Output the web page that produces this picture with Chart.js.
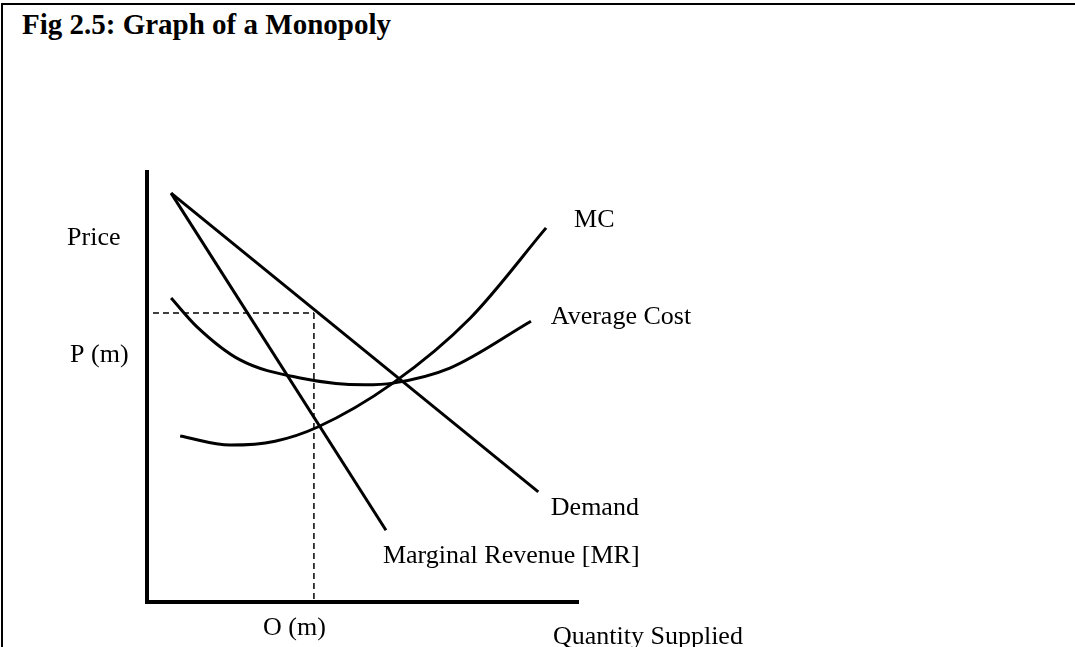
<!DOCTYPE html>
<html>
<head>
<meta charset="utf-8">
<title>Fig 2.5: Graph of a Monopoly</title>
<script src="https://cdn.jsdelivr.net/npm/chart.js@4/dist/chart.umd.min.js"></script>
<style>
  html, body { margin: 0; padding: 0; background: #fff; overflow: hidden; }
  #wrap { position: relative; width: 1075px; height: 647px; }
  #frame { position: absolute; left: 1px; top: 3px; width: 1100px; height: 700px;
           border-top: 2px solid #000; border-left: 2px solid #000; }
  #title { position: absolute; left: 22px; top: 8px; margin: 0;
           font: bold 29px "Liberation Serif", "Times New Roman", serif; color: #000; }
  #chart { position: absolute; left: 0; top: 0; }
</style>
</head>
<body>
<div id="wrap">
  <div id="frame"></div>
  <p id="title">Fig 2.5: Graph of a Monopoly</p>
  <canvas id="chart" width="1075" height="647"></canvas>
</div>
<script>
(function () {
  "use strict";

  /* ── Data (quantity 0-100, price 0-100) ── */
  const demandQ = [5.7, 90.8];
  const demandP = [95.1, 25.6];

  const mrQ = [5.7, 55.5];
  const mrP = [95.1, 16.7];

  const mcQ = [7.8, 19.4, 29.8, 39.7, 57.1, 75.0, 92.6];
  const mcP = [38.6, 36.5, 37.4, 40.7, 50.9, 66.0, 87.0];

  const acQ = [5.7, 11.7, 21.7, 35.6, 50.6, 57.1, 70.3, 89.1];
  const acP = [70.7, 64.0, 56.3, 52.1, 50.5, 50.9, 54.4, 65.3];

  // monopoly output / price
  const qM = 38.8;
  const pM = 67.2;

  const labelTexts = ['Price', 'P (m)', 'MC', 'Average Cost', 'Demand',
                      'Marginal Revenue [MR]', 'O (m)', 'Quantity Supplied'];

  /* ── Helpers ── */
  function pts(xs, ys) { return xs.map((x, i) => ({ x: x, y: ys[i] })); }

  const solid = { borderColor: '#000', borderWidth: 3, pointRadius: 0, showLine: true, fill: false };
  const dashed = { borderColor: '#000', borderWidth: 1.5, borderDash: [6, 4], pointRadius: 0, showLine: true, fill: false };

  /* ── Text labels, anchored in data units ── */
  const labelAnchors = [
    [-18.4, 83.0], [-17.7, 55.8], [99.1, 87.2], [93.7, 64.7],
    [93.7, 20.2], [54.8, 9.1], [27.0, -7.7], [94.2, -9.8]
  ];

  const labelPlugin = {
    id: 'econLabels',
    afterDraw(chart) {
      const c = chart.ctx, xs = chart.scales.x, ys = chart.scales.y;
      c.save();
      c.fillStyle = '#000';
      c.font = '26px "Liberation Serif", "Times New Roman", serif';
      c.textAlign = 'left';
      c.textBaseline = 'alphabetic';
      labelTexts.forEach((t, i) => {
        const a = labelAnchors[i];
        c.fillText(t, xs.getPixelForValue(a[0]), ys.getPixelForValue(a[1]));
      });
      c.restore();
    }
  };

  new Chart(document.getElementById('chart'), {
    type: 'scatter',
    data: {
      datasets: [
        Object.assign({ label: 'Demand', data: pts(demandQ, demandP) }, solid),
        Object.assign({ label: 'MR', data: pts(mrQ, mrP) }, solid),
        Object.assign({ label: 'MC', data: pts(mcQ, mcP), cubicInterpolationMode: 'monotone' }, solid),
        Object.assign({ label: 'Average Cost', data: pts(acQ, acP), cubicInterpolationMode: 'monotone' }, solid),
        Object.assign({ label: 'Pm', data: [{ x: 1.5, y: pM }, { x: qM, y: pM }] }, dashed),
        Object.assign({ label: 'Qm', data: [{ x: qM, y: pM }, { x: qM, y: 0 }] }, dashed)
      ]
    },
    options: {
      responsive: false, animation: false,
      layout: { padding: { left: 146.5, top: 172, right: 497, bottom: 45 } },
      plugins: { legend: { display: false }, tooltip: { enabled: false } },
      scales: {
        x: { type: 'linear', min: 0, max: 100,
             grid: { display: false, drawTicks: false },
             border: { display: true, color: '#000', width: 4 },
             ticks: { display: false } },
        y: { type: 'linear', min: 0, max: 100,
             grid: { display: false, drawTicks: false },
             border: { display: true, color: '#000', width: 4 },
             ticks: { display: false } }
      }
    },
    plugins: [labelPlugin]
  });
})();
</script>
</body>
</html>
